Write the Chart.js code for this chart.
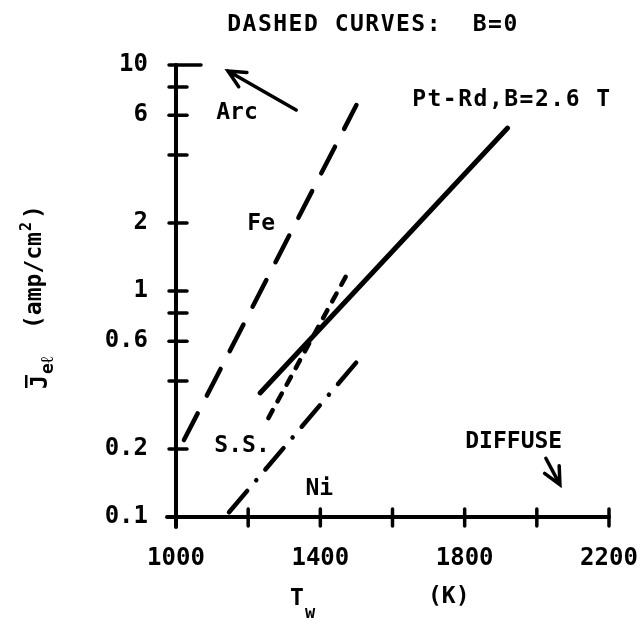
<!DOCTYPE html>
<html>
<head>
<meta charset="utf-8">
<script src="https://cdn.jsdelivr.net/npm/chart.js@4"></script>
<style>
  html, body { margin: 0; padding: 0; background: #fff; }
  #wrap { width: 641px; height: 619px; }
</style>
</head>
<body>
<div id="wrap"><canvas id="chart"></canvas></div>
<script>
// curves: wall temperature T_w (K) against mean current density (amp/cm2)
const feT = [1022, 1500];
const feJ = [0.219, 6.65];
const ptT = [1233, 1919];
const ptJ = [0.354, 5.26];
const ssT = [1256, 1483];
const ssJ = [0.274, 1.26];
const niT = [1147, 1522];
const niJ = [0.105, 0.532];

const xTicks = [1000, 1200, 1400, 1600, 1800, 2000, 2200];
const xTickLabels = [1000, 1400, 1800, 2200];
const yTicks = [0.1, 0.2, 0.4, 0.6, 0.8, 1, 2, 4, 6, 8, 10];
const yTickLabels = [0.1, 0.2, 0.6, 1, 2, 6, 10];

// text written on the plot, placed in data units
const noteText = ['Arc', 'Fe', 'S.S.', 'Ni', 'DIFFUSE', 'Pt-Rd,B=2.6 T'];
const noteT = [1169, 1236, 1183, 1397, 1936, 1931];
const noteJ = [6.1, 1.98, 0.206, 0.133, 0.215, 7.0];

// arrows: [tail, head] in data units
const arcArrow = [[1333, 6.32], [1144, 9.4]];
const diffuseArrow = [[2025, 0.182], [2064, 0.139]];

const FONT = 'DejaVu Sans Mono';

function pts(xs, ys) {
  return xs.map((x, i) => ({ x: x, y: ys[i] }));
}

function arrow(ctx, x, y, a) {
  const x0 = x.getPixelForValue(a[0][0]), y0 = y.getPixelForValue(a[0][1]);
  const x1 = x.getPixelForValue(a[1][0]), y1 = y.getPixelForValue(a[1][1]);
  const ang = Math.atan2(y0 - y1, x0 - x1);
  ctx.beginPath();
  ctx.moveTo(x0, y0);
  ctx.lineTo(x1, y1);
  ctx.moveTo(x1 + 19 * Math.cos(ang + 0.45), y1 + 19 * Math.sin(ang + 0.45));
  ctx.lineTo(x1, y1);
  ctx.lineTo(x1 + 19 * Math.cos(ang - 0.45), y1 + 19 * Math.sin(ang - 0.45));
  ctx.stroke();
}

const decor = {
  id: 'decor',
  afterDraw(chart) {
    const ctx = chart.ctx;
    const x = chart.scales.x, y = chart.scales.y;
    const a = chart.chartArea;
    ctx.save();
    ctx.strokeStyle = '#000';
    ctx.fillStyle = '#000';
    ctx.lineCap = 'round';

    // axes with ticks crossing them
    ctx.lineWidth = 4;
    ctx.beginPath();
    ctx.moveTo(a.left, a.top);
    ctx.lineTo(a.left, a.bottom + 10);
    ctx.moveTo(a.left - 9, a.bottom);
    ctx.lineTo(a.right, a.bottom);
    ctx.stroke();
    ctx.lineWidth = 3.5;
    yTicks.forEach(v => {
      const py = y.getPixelForValue(v);
      ctx.beginPath();
      ctx.moveTo(a.left - 7, py);
      ctx.lineTo(a.left + (v === 10 ? 25 : 11), py);
      ctx.stroke();
    });
    xTicks.forEach(v => {
      const px = x.getPixelForValue(v);
      ctx.beginPath();
      ctx.moveTo(px, a.bottom - 8);
      ctx.lineTo(px, a.bottom + 9);
      ctx.stroke();
    });

    // arrows
    ctx.lineWidth = 3.5;
    arrow(ctx, x, y, arcArrow);
    arrow(ctx, x, y, diffuseArrow);

    // notes
    ctx.font = 'bold 23px "' + FONT + '"';
    ctx.textAlign = 'center';
    ctx.textBaseline = 'middle';
    noteText.forEach((t, i) => {
      ctx.letterSpacing = t.length > 8 ? '1.5px' : '0px';
      ctx.fillText(t, x.getPixelForValue(noteT[i]), y.getPixelForValue(noteJ[i]));
    });

    // heading
    ctx.letterSpacing = '1.5px';
    ctx.fillText('DASHED CURVES:  B=0', 373, 25);
    ctx.letterSpacing = '0px';

    // x title
    ctx.textAlign = 'left';
    ctx.textBaseline = 'alphabetic';
    ctx.font = 'bold 23px "' + FONT + '"';
    ctx.fillText('T', 290, 605);
    ctx.font = 'bold 17px "' + FONT + '"';
    ctx.fillText('w', 305, 618);
    ctx.font = 'bold 23px "' + FONT + '"';
    ctx.fillText('(K)', 428, 603);

    // y title, rotated
    ctx.translate(47, 389);
    ctx.rotate(-Math.PI / 2);
    ctx.font = 'bold 23px "' + FONT + '"';
    ctx.fillText('J', 0, 0);
    ctx.fillRect(1, -22, 13, 2.5);
    ctx.font = 'bold 18px "' + FONT + '"';
    ctx.fillText('e\u2113', 15, 6);
    ctx.font = 'bold 23px "' + FONT + '"';
    ctx.fillText('(amp/cm', 60, -6);
    ctx.font = 'bold 15px "' + FONT + '"';
    ctx.fillText('2', 158, -16);
    ctx.font = 'bold 23px "' + FONT + '"';
    ctx.fillText(')', 170, -6);
    ctx.restore();
  }
};

const ctx = document.getElementById('chart').getContext('2d');
new Chart(ctx, {
  type: 'scatter',
  data: {
    datasets: [
      { label: 'Fe', data: pts(feT, feJ), borderDash: [30, 20], borderWidth: 4.5 },
      { label: 'Pt-Rd', data: pts(ptT, ptJ), borderWidth: 5 },
      { label: 'S.S.', data: pts(ssT, ssJ), borderDash: [9, 10], borderWidth: 4.5 },
      { label: 'Ni', data: pts(niT, niJ), borderDash: [28, 14, 0.1, 14], borderWidth: 4.5 }
    ].map(d => Object.assign({
      showLine: true,
      pointRadius: 0,
      borderColor: '#000',
      borderCapStyle: 'round',
      fill: false
    }, d))
  },
  options: {
    responsive: true,
    maintainAspectRatio: false,
    animation: false,
    layout: { padding: { left: 0, right: 32, top: 65, bottom: 0 } },
    plugins: {
      legend: { display: false },
      tooltip: { enabled: false }
    },
    scales: {
      x: {
        type: 'linear',
        min: 1000,
        max: 2200,
        grid: { display: false },
        border: { display: false },
        afterBuildTicks: s => { s.ticks = xTicks.map(v => ({ value: v })); },
        afterFit: s => { s.height = 102; s.paddingLeft = 0; s.paddingRight = 0; },
        ticks: {
          autoSkip: false,
          maxRotation: 0,
          padding: 19,
          color: '#000',
          font: { family: FONT, weight: 'bold', size: 24 },
          callback: v => xTickLabels.includes(v) ? String(v) : ''
        }
      },
      y: {
        type: 'logarithmic',
        min: 0.1,
        max: 10,
        grid: { display: false },
        border: { display: false },
        afterBuildTicks: s => { s.ticks = yTicks.map(v => ({ value: v })); },
        afterFit: s => { s.width = 176; s.paddingTop = 0; s.paddingBottom = 0; },
        ticks: {
          autoSkip: false,
          padding: 20,
          color: '#000',
          font: { family: FONT, weight: 'bold', size: 24 },
          callback: v => yTickLabels.includes(v) ? String(v) : ''
        }
      }
    }
  },
  plugins: [decor]
});
</script>
</body>
</html>
